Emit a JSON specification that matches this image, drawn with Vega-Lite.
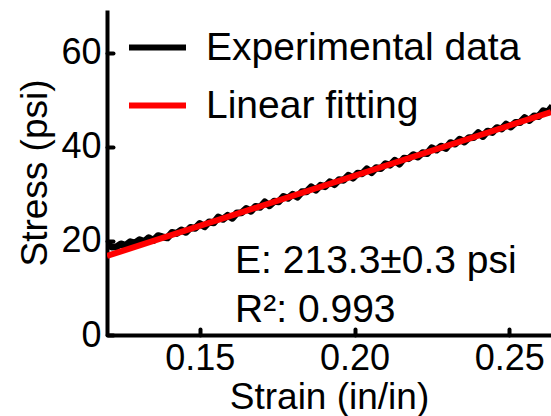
{
  "$schema": "https://vega.github.io/schema/vega-lite/v6.json",
  "width": 444,
  "height": 325,
  "autosize": {"type": "none"},
  "padding": {"left": 107, "top": 10, "right": 0, "bottom": 81},
  "config": {"view": {"stroke": null}, "font": "Liberation Sans"},
  "layer": [
    {
      "data": {"values": [
        {"strain":0.12,"stress":19.4},{"strain":0.1215,"stress":18.72},{"strain":0.123,"stress":18.74},{"strain":0.1245,"stress":19.36},{"strain":0.126,"stress":19.08},{"strain":0.1275,"stress":19.8},{"strain":0.129,"stress":19.52},{"strain":0.1305,"stress":20.24},{"strain":0.132,"stress":19.86},{"strain":0.1335,"stress":20.68},
        {"strain":0.135,"stress":20.1},{"strain":0.1365,"stress":21.12},{"strain":0.138,"stress":20.84},{"strain":0.1395,"stress":20.66},{"strain":0.141,"stress":21.78},{"strain":0.1425,"stress":21.6},{"strain":0.144,"stress":22.32},{"strain":0.1455,"stress":21.84},{"strain":0.147,"stress":22.86},{"strain":0.1485,"stress":22.68},
        {"strain":0.15,"stress":23.7},{"strain":0.1515,"stress":23.02},{"strain":0.153,"stress":24.04},{"strain":0.1545,"stress":23.86},{"strain":0.156,"stress":25.08},{"strain":0.1575,"stress":24.6},{"strain":0.159,"stress":25.42},{"strain":0.1605,"stress":24.84},{"strain":0.162,"stress":25.96},{"strain":0.1635,"stress":25.98},
        {"strain":0.165,"stress":26.9},{"strain":0.1665,"stress":26.32},{"strain":0.168,"stress":27.34},{"strain":0.1695,"stress":27.16},{"strain":0.171,"stress":28.28},{"strain":0.1725,"stress":27.5},{"strain":0.174,"stress":28.42},{"strain":0.1755,"stress":28.34},{"strain":0.177,"stress":29.46},{"strain":0.1785,"stress":29.08},
        {"strain":0.18,"stress":29.9},{"strain":0.1815,"stress":29.32},{"strain":0.183,"stress":30.44},{"strain":0.1845,"stress":30.46},{"strain":0.186,"stress":31.48},{"strain":0.1875,"stress":30.8},{"strain":0.189,"stress":31.82},{"strain":0.1905,"stress":31.54},{"strain":0.192,"stress":32.56},{"strain":0.1935,"stress":31.98},
        {"strain":0.195,"stress":33.0},{"strain":0.1965,"stress":32.92},{"strain":0.198,"stress":33.94},{"strain":0.1995,"stress":33.36},{"strain":0.201,"stress":34.38},{"strain":0.2025,"stress":34.3},{"strain":0.204,"stress":35.32},{"strain":0.2055,"stress":34.54},{"strain":0.207,"stress":35.56},{"strain":0.2085,"stress":35.38},
        {"strain":0.21,"stress":36.4},{"strain":0.2115,"stress":36.12},{"strain":0.213,"stress":37.14},{"strain":0.2145,"stress":36.36},{"strain":0.216,"stress":37.58},{"strain":0.2175,"stress":37.5},{"strain":0.219,"stress":38.32},{"strain":0.2205,"stress":37.84},{"strain":0.222,"stress":38.76},{"strain":0.2235,"stress":38.58},
        {"strain":0.225,"stress":39.8},{"strain":0.2265,"stress":39.32},{"strain":0.228,"stress":40.14},{"strain":0.2295,"stress":39.66},{"strain":0.231,"stress":40.88},{"strain":0.2325,"stress":40.6},{"strain":0.234,"stress":41.62},{"strain":0.2355,"stress":41.04},{"strain":0.237,"stress":41.96},{"strain":0.2385,"stress":41.98},
        {"strain":0.24,"stress":43.0},{"strain":0.2415,"stress":42.22},{"strain":0.243,"stress":43.34},{"strain":0.2445,"stress":43.06},{"strain":0.246,"stress":44.08},{"strain":0.2475,"stress":43.8},{"strain":0.249,"stress":44.82},{"strain":0.2505,"stress":44.24},{"strain":0.252,"stress":45.16},{"strain":0.2535,"stress":45.18},
        {"strain":0.255,"stress":46.2},{"strain":0.2565,"stress":45.62},{"strain":0.258,"stress":46.54},{"strain":0.2595,"stress":46.46},{"strain":0.261,"stress":47.68},{"strain":0.2625,"stress":47.4},{"strain":0.264,"stress":48.62}
      ]},
      "mark": {"type": "line", "strokeWidth": 7, "strokeJoin": "round", "clip": true},
      "encoding": {
        "x": {
          "field": "strain", "type": "quantitative",
          "scale": {"domain": [0.12, 0.2635], "nice": false, "zero": false},
          "axis": {
            "values": [0.15, 0.2, 0.25], "format": ".2f", "grid": false,
            "domainColor": "black", "domainWidth": 4,
            "tickColor": "black", "tickWidth": 4, "tickSize": -6, "tickCap": "round",
            "labelColor": "black", "labelFontSize": 36, "labelPadding": 12,
            "title": "Strain (in/in)", "titleColor": "black", "titleFontSize": 37,
            "titleFontWeight": "normal", "titlePadding": 3
          }
        },
        "y": {
          "field": "stress", "type": "quantitative",
          "scale": {"domain": [0, 69.1], "nice": false},
          "axis": {
            "values": [0, 20, 40, 60], "grid": false,
            "domainColor": "black", "domainWidth": 4,
            "tickColor": "black", "tickWidth": 4, "tickSize": -6, "tickCap": "round",
            "labelColor": "black", "labelFontSize": 36, "labelPadding": 12,
            "title": "Stress (psi)", "titleColor": "black", "titleFontSize": 37,
            "titleFontWeight": "normal", "titlePadding": 6
          }
        },
        "color": {
          "datum": "Experimental data",
          "scale": {"domain": ["Experimental data", "Linear fitting"], "range": ["black", "red"]},
          "legend": {
            "title": null, "orient": "none", "legendX": 19, "legendY": 6, "padding": 0,
            "symbolType": "stroke", "symbolStrokeWidth": 6, "symbolSize": 3249,
            "labelFontSize": 39, "labelColor": "black", "labelOffset": 17, "labelLimit": 500,
            "rowPadding": 6
          }
        }
      }
    },
    {
      "data": {"values": [{"strain": 0.12, "stress": 16.8}, {"strain": 0.2635, "stress": 47.41}]},
      "mark": {"type": "line", "strokeWidth": 6, "clip": true},
      "encoding": {
        "x": {"field": "strain", "type": "quantitative"},
        "y": {"field": "stress", "type": "quantitative"},
        "color": {"datum": "Linear fitting"}
      }
    },
    {
      "mark": {"type": "rule", "strokeWidth": 4, "color": "black"},
      "encoding": {"y": {"datum": 69.1}}
    },
    {
      "data": {"values": [
        {"label": "E: 213.3±0.3 psi", "strain": 0.1614, "stress": 13.2},
        {"label": "R²: 0.993", "strain": 0.1614, "stress": 2.8}
      ]},
      "mark": {"type": "text", "align": "left", "baseline": "alphabetic", "fontSize": 39, "color": "black"},
      "encoding": {
        "x": {"field": "strain", "type": "quantitative"},
        "y": {"field": "stress", "type": "quantitative"},
        "text": {"field": "label"}
      }
    }
  ]
}
